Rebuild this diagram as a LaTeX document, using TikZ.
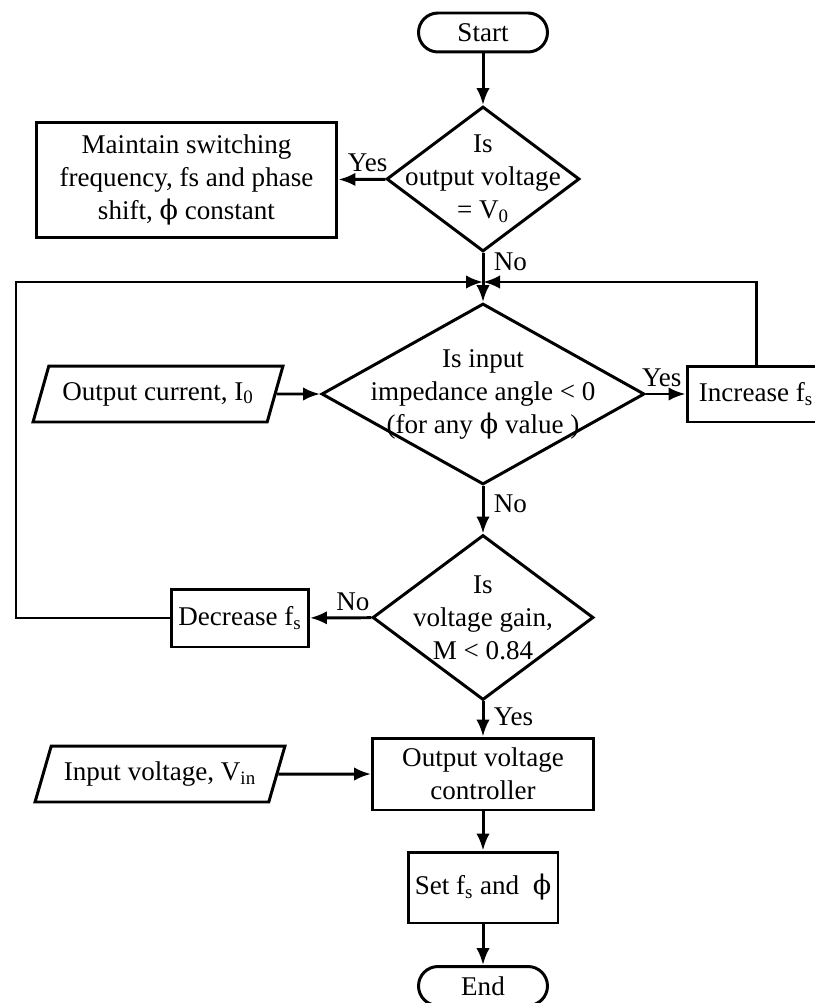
\documentclass[tikz,border=0pt]{standalone}
\usepackage{fontspec}
\setmainfont{Liberation Serif}
\newfontfamily\phifont{DejaVu Serif}
\newcommand{\ph}{{\phifont\char"03D5}}
\usetikzlibrary{shapes.geometric,arrows.meta}

\tikzset{
	terminal/.style={draw, rectangle, rounded corners=0.39cm, minimum width=2.58cm, minimum height=0.78cm, inner sep=0pt},
	process/.style={draw, rectangle, align=center, inner sep=0pt},
	decision/.style={draw, diamond, inner sep=0pt},
	io/.style={draw, trapezium, trapezium left angle=62.6, trapezium right angle=117.4, trapezium stretches=true, minimum width=5cm, minimum height=1.12cm, inner sep=1pt},
	flow/.style={-{Latex[length=0.34cm,width=0.27cm]}},
}

\begin{document}
\begin{tikzpicture}[x=0.02cm, y=-0.02cm, line width=1.7pt, font=\fontsize{15.4}{18.8}\selectfont]
			\useasboundingbox (0,0) rectangle (814,1003);

			% Draw the blocks
			\node[terminal] (start) at (483,32.5) {Start};

			\node[decision, minimum width=3.86cm, minimum height=2.9cm,
				label={[align=center]center:{Is\\output voltage\\= V\textsubscript{0}}}] (d1) at (483,179) {};
			\node[process, minimum width=6.02cm, minimum height=2.32cm] (maintain) at (186.5,180)
				{Maintain switching\\frequency, fs and phase\\shift, \ph{} constant};

			\coordinate (join) at (483,282);
			\coordinate (loopL) at (16,282);

			\node[decision, minimum width=6.46cm, minimum height=3.62cm,
				label={[align=center]center:{Is input\\impedance angle < 0\\(for any \ph{} value )}}] (d2) at (483,394) {};
			\node[io] (current) at (158,394) {Output current, I\textsubscript{0}};
			\node[process, minimum width=2.76cm, minimum height=1.12cm] (increase) at (756,394) {Increase f\textsubscript{s}};

			\node[decision, minimum width=4.42cm, minimum height=3.3cm,
				label={[align=center]center:{Is\\voltage gain,\\M < 0.84}}] (d3) at (483,617.5) {};
			\node[process, minimum width=2.74cm, minimum height=1.16cm] (decrease) at (240,618) {Decrease f\textsubscript{s}};

			\node[process, minimum width=4.42cm, minimum height=1.44cm] (ctrl) at (483,774) {Output voltage\\controller};
			\node[io] (vin) at (160,774) {Input voltage, V\textsubscript{in}};

			\node[process, minimum width=3cm, minimum height=1.42cm] (set) at (483,887.5) {Set f\textsubscript{s} and \ \ph};
			\node[terminal] (end) at (483,986) {End};

			% Draw the connectors
			\draw[flow] (start) -- (d1);
			\draw[flow] (d1) -- node[pos=0.38, above] {Yes} (maintain);
			\draw[flow] (d1.south) -- node[pos=0.17, right, xshift=2pt] {No} (d2.north);
			\draw[flow] (decrease) -| (loopL) -- (join);
			\draw[flow] (increase) |- (join);
			\draw[flow] (current) -- (d2);
			\draw[flow] (d2) -- node[pos=0.4, above] {Yes} (increase);
			\draw[flow] (d2) -- node[pos=0.38, right, xshift=2pt] {No} (d3);
			\draw[flow] (d3) -- node[pos=0.3, above] {No} (decrease);
			\draw[flow] (d3) -- node[pos=0.45, right, xshift=2pt] {Yes} (ctrl);
			\draw[flow] (vin) -- (ctrl);
			\draw[flow] (ctrl) -- (set);
			\draw[flow] (set) -- (end);
		\end{tikzpicture}
\end{document}
